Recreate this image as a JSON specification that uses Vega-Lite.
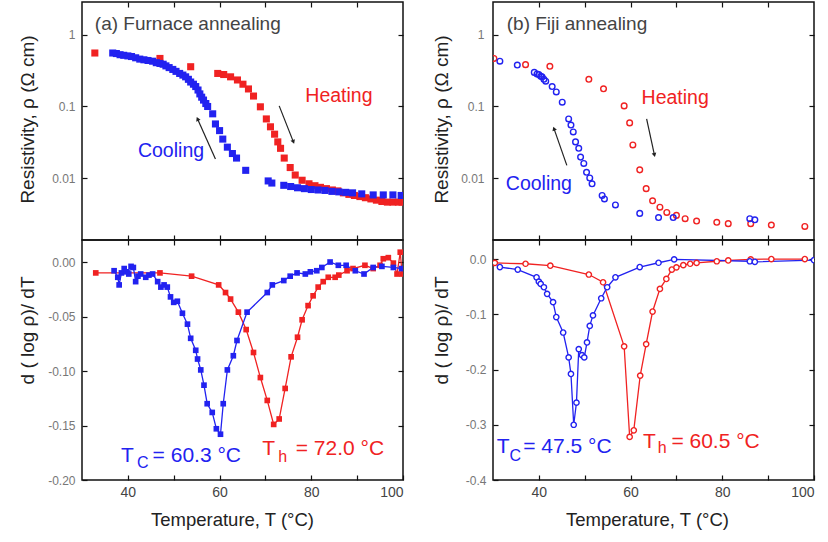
{
  "$schema": "https://vega.github.io/schema/vega-lite/v6.json",
  "background": "white",
  "padding": {"left": 17, "top": 0, "right": 0, "bottom": 0},
  "config": {
    "view": {"stroke": "#111", "strokeWidth": 1.5},
    "font": "Liberation Sans",
    "axis": {"domain": false, "grid": false, "tickSize": -5, "tickColor": "#111", "tickWidth": 1.2, "labelFont": "Liberation Sans", "titleFont": "Liberation Sans", "titleFontWeight": "normal", "titleColor": "#222", "labelColor": "#444", "labelFontSize": 14, "titleFontSize": 18.5}
  },
  "datasets": {
    "fur_rho": [
      {"T": 32.8, "r": 0.56, "s": "Heating"}, {"T": 47.0, "r": 0.47, "s": "Heating"}, {"T": 53.7, "r": 0.36, "s": "Heating"},
      {"T": 59.6, "r": 0.29, "s": "Heating"}, {"T": 60.9, "r": 0.28, "s": "Heating"}, {"T": 62.4, "r": 0.26, "s": "Heating"},
      {"T": 63.9, "r": 0.235, "s": "Heating"}, {"T": 65.1, "r": 0.205, "s": "Heating"}, {"T": 66.3, "r": 0.176, "s": "Heating"},
      {"T": 67.4, "r": 0.14, "s": "Heating"}, {"T": 68.9, "r": 0.099, "s": "Heating"}, {"T": 70.2, "r": 0.067, "s": "Heating"},
      {"T": 71.1, "r": 0.052, "s": "Heating"}, {"T": 72.0, "r": 0.041, "s": "Heating"}, {"T": 72.7, "r": 0.032, "s": "Heating"},
      {"T": 73.3, "r": 0.026, "s": "Heating"}, {"T": 74.1, "r": 0.019, "s": "Heating"}, {"T": 75.4, "r": 0.014, "s": "Heating"},
      {"T": 76.5, "r": 0.011, "s": "Heating"}, {"T": 78.0, "r": 0.0093, "s": "Heating"}, {"T": 79.5, "r": 0.0083, "s": "Heating"},
      {"T": 80.8, "r": 0.0078, "s": "Heating"}, {"T": 82.0, "r": 0.0074, "s": "Heating"}, {"T": 83.3, "r": 0.0071, "s": "Heating"},
      {"T": 84.6, "r": 0.0068, "s": "Heating"}, {"T": 85.8, "r": 0.0066, "s": "Heating"}, {"T": 87.0, "r": 0.0062, "s": "Heating"},
      {"T": 88.2, "r": 0.0059, "s": "Heating"}, {"T": 89.4, "r": 0.0057, "s": "Heating"}, {"T": 90.6, "r": 0.0055, "s": "Heating"},
      {"T": 91.8, "r": 0.0053, "s": "Heating"}, {"T": 93.0, "r": 0.0051, "s": "Heating"}, {"T": 94.2, "r": 0.0049, "s": "Heating"},
      {"T": 95.4, "r": 0.0047, "s": "Heating"}, {"T": 96.6, "r": 0.0046, "s": "Heating"}, {"T": 97.8, "r": 0.0046, "s": "Heating"},
      {"T": 99.0, "r": 0.0046, "s": "Heating"}, {"T": 99.8, "r": 0.0046, "s": "Heating"},
      {"T": 36.7, "r": 0.56, "s": "Cooling"}, {"T": 37.5, "r": 0.55, "s": "Cooling"}, {"T": 38.3, "r": 0.53, "s": "Cooling"},
      {"T": 39.1, "r": 0.52, "s": "Cooling"}, {"T": 40.0, "r": 0.51, "s": "Cooling"}, {"T": 40.8, "r": 0.50, "s": "Cooling"},
      {"T": 41.7, "r": 0.48, "s": "Cooling"}, {"T": 42.6, "r": 0.46, "s": "Cooling"}, {"T": 43.5, "r": 0.45, "s": "Cooling"},
      {"T": 44.4, "r": 0.44, "s": "Cooling"}, {"T": 45.4, "r": 0.43, "s": "Cooling"}, {"T": 46.2, "r": 0.41, "s": "Cooling"},
      {"T": 47.0, "r": 0.40, "s": "Cooling"}, {"T": 47.7, "r": 0.39, "s": "Cooling"}, {"T": 48.3, "r": 0.37, "s": "Cooling"},
      {"T": 49.0, "r": 0.35, "s": "Cooling"}, {"T": 49.8, "r": 0.33, "s": "Cooling"}, {"T": 50.5, "r": 0.31, "s": "Cooling"},
      {"T": 51.3, "r": 0.29, "s": "Cooling"}, {"T": 52.0, "r": 0.275, "s": "Cooling"}, {"T": 52.6, "r": 0.26, "s": "Cooling"},
      {"T": 53.2, "r": 0.24, "s": "Cooling"}, {"T": 53.7, "r": 0.22, "s": "Cooling"}, {"T": 54.3, "r": 0.205, "s": "Cooling"},
      {"T": 54.8, "r": 0.19, "s": "Cooling"}, {"T": 55.3, "r": 0.17, "s": "Cooling"}, {"T": 55.7, "r": 0.15, "s": "Cooling"},
      {"T": 56.1, "r": 0.135, "s": "Cooling"}, {"T": 56.5, "r": 0.123, "s": "Cooling"}, {"T": 57.0, "r": 0.11, "s": "Cooling"},
      {"T": 57.4, "r": 0.1, "s": "Cooling"}, {"T": 58.5, "r": 0.079, "s": "Cooling"}, {"T": 59.1, "r": 0.057, "s": "Cooling"},
      {"T": 60.0, "r": 0.046, "s": "Cooling"}, {"T": 60.7, "r": 0.035, "s": "Cooling"}, {"T": 61.7, "r": 0.027, "s": "Cooling"},
      {"T": 62.8, "r": 0.022, "s": "Cooling"}, {"T": 63.7, "r": 0.019, "s": "Cooling"}, {"T": 65.7, "r": 0.0128, "s": "Cooling"},
      {"T": 70.6, "r": 0.0091, "s": "Cooling"}, {"T": 71.4, "r": 0.0085, "s": "Cooling"}, {"T": 74.0, "r": 0.0079, "s": "Cooling"},
      {"T": 75.5, "r": 0.0076, "s": "Cooling"}, {"T": 77.0, "r": 0.0073, "s": "Cooling"}, {"T": 78.5, "r": 0.0071, "s": "Cooling"},
      {"T": 80.0, "r": 0.0069, "s": "Cooling"}, {"T": 81.5, "r": 0.0068, "s": "Cooling"}, {"T": 83.0, "r": 0.0067, "s": "Cooling"},
      {"T": 84.5, "r": 0.0065, "s": "Cooling"}, {"T": 86.0, "r": 0.0064, "s": "Cooling"}, {"T": 87.5, "r": 0.0063, "s": "Cooling"},
      {"T": 89.0, "r": 0.0062, "s": "Cooling"}, {"T": 91.0, "r": 0.006, "s": "Cooling"}, {"T": 93.5, "r": 0.0058, "s": "Cooling"},
      {"T": 95.7, "r": 0.0058, "s": "Cooling"}, {"T": 97.8, "r": 0.0058, "s": "Cooling"}, {"T": 99.6, "r": 0.0057, "s": "Cooling"}
    ],
    "fur_d": [
      {"T": 33.0, "d": -0.010, "s": "Heating"}, {"T": 47.0, "d": -0.010, "s": "Heating"}, {"T": 53.9, "d": -0.013, "s": "Heating"},
      {"T": 59.8, "d": -0.021, "s": "Heating"}, {"T": 61.3, "d": -0.028, "s": "Heating"}, {"T": 62.4, "d": -0.034, "s": "Heating"},
      {"T": 64.1, "d": -0.046, "s": "Heating"}, {"T": 65.8, "d": -0.062, "s": "Heating"}, {"T": 67.4, "d": -0.083, "s": "Heating"},
      {"T": 68.9, "d": -0.106, "s": "Heating"}, {"T": 70.4, "d": -0.127, "s": "Heating"}, {"T": 71.8, "d": -0.149, "s": "Heating"},
      {"T": 73.0, "d": -0.144, "s": "Heating"}, {"T": 74.3, "d": -0.116, "s": "Heating"}, {"T": 75.6, "d": -0.087, "s": "Heating"},
      {"T": 77.0, "d": -0.069, "s": "Heating"}, {"T": 78.0, "d": -0.053, "s": "Heating"}, {"T": 79.3, "d": -0.040, "s": "Heating"},
      {"T": 80.4, "d": -0.031, "s": "Heating"}, {"T": 81.5, "d": -0.023, "s": "Heating"}, {"T": 82.6, "d": -0.018, "s": "Heating"},
      {"T": 83.7, "d": -0.014, "s": "Heating"}, {"T": 85.2, "d": -0.014, "s": "Heating"}, {"T": 86.0, "d": -0.012, "s": "Heating"},
      {"T": 87.8, "d": -0.008, "s": "Heating"}, {"T": 89.1, "d": -0.006, "s": "Heating"}, {"T": 91.7, "d": -0.003, "s": "Heating"},
      {"T": 93.5, "d": -0.006, "s": "Heating"}, {"T": 95.0, "d": -0.003, "s": "Heating"}, {"T": 95.7, "d": 0.003, "s": "Heating"},
      {"T": 96.8, "d": 0.004, "s": "Heating"}, {"T": 97.9, "d": -0.001, "s": "Heating"}, {"T": 98.7, "d": -0.011, "s": "Heating"},
      {"T": 99.4, "d": 0.009, "s": "Heating"}, {"T": 99.8, "d": -0.011, "s": "Heating"},
      {"T": 37.0, "d": -0.008, "s": "Cooling"}, {"T": 37.8, "d": -0.014, "s": "Cooling"}, {"T": 38.1, "d": -0.021, "s": "Cooling"},
      {"T": 38.6, "d": -0.010, "s": "Cooling"}, {"T": 39.2, "d": -0.006, "s": "Cooling"}, {"T": 39.7, "d": -0.009, "s": "Cooling"},
      {"T": 40.2, "d": -0.011, "s": "Cooling"}, {"T": 40.7, "d": -0.004, "s": "Cooling"}, {"T": 41.2, "d": -0.005, "s": "Cooling"},
      {"T": 41.7, "d": -0.018, "s": "Cooling"}, {"T": 42.2, "d": -0.013, "s": "Cooling"}, {"T": 42.8, "d": -0.011, "s": "Cooling"},
      {"T": 43.9, "d": -0.014, "s": "Cooling"}, {"T": 44.6, "d": -0.012, "s": "Cooling"}, {"T": 45.4, "d": -0.011, "s": "Cooling"},
      {"T": 46.5, "d": -0.018, "s": "Cooling"}, {"T": 47.2, "d": -0.023, "s": "Cooling"}, {"T": 47.9, "d": -0.021, "s": "Cooling"},
      {"T": 48.6, "d": -0.023, "s": "Cooling"}, {"T": 49.3, "d": -0.032, "s": "Cooling"}, {"T": 50.0, "d": -0.037, "s": "Cooling"},
      {"T": 50.8, "d": -0.036, "s": "Cooling"}, {"T": 51.9, "d": -0.047, "s": "Cooling"}, {"T": 53.0, "d": -0.057, "s": "Cooling"},
      {"T": 53.7, "d": -0.070, "s": "Cooling"}, {"T": 54.8, "d": -0.081, "s": "Cooling"}, {"T": 55.2, "d": -0.089, "s": "Cooling"},
      {"T": 55.9, "d": -0.099, "s": "Cooling"}, {"T": 56.6, "d": -0.113, "s": "Cooling"}, {"T": 57.3, "d": -0.130, "s": "Cooling"},
      {"T": 58.4, "d": -0.138, "s": "Cooling"}, {"T": 59.3, "d": -0.153, "s": "Cooling"}, {"T": 60.2, "d": -0.158, "s": "Cooling"},
      {"T": 60.8, "d": -0.130, "s": "Cooling"}, {"T": 61.7, "d": -0.099, "s": "Cooling"}, {"T": 63.0, "d": -0.086, "s": "Cooling"},
      {"T": 63.8, "d": -0.072, "s": "Cooling"}, {"T": 66.0, "d": -0.046, "s": "Cooling"}, {"T": 70.4, "d": -0.028, "s": "Cooling"},
      {"T": 71.5, "d": -0.021, "s": "Cooling"}, {"T": 74.0, "d": -0.017, "s": "Cooling"}, {"T": 75.4, "d": -0.013, "s": "Cooling"},
      {"T": 76.9, "d": -0.010, "s": "Cooling"}, {"T": 78.7, "d": -0.011, "s": "Cooling"}, {"T": 79.8, "d": -0.009, "s": "Cooling"},
      {"T": 81.2, "d": -0.008, "s": "Cooling"}, {"T": 82.3, "d": -0.005, "s": "Cooling"}, {"T": 84.1, "d": 0.0, "s": "Cooling"},
      {"T": 85.9, "d": -0.003, "s": "Cooling"}, {"T": 87.6, "d": -0.003, "s": "Cooling"}, {"T": 89.6, "d": -0.008, "s": "Cooling"},
      {"T": 91.5, "d": -0.011, "s": "Cooling"}, {"T": 93.5, "d": -0.005, "s": "Cooling"}, {"T": 95.4, "d": -0.004, "s": "Cooling"},
      {"T": 97.9, "d": -0.005, "s": "Cooling"}, {"T": 99.7, "d": -0.006, "s": "Cooling"}
    ],
    "fiji_rho": [
      {"T": 30.2, "r": 0.47, "s": "Heating"}, {"T": 37.1, "r": 0.385, "s": "Heating"}, {"T": 42.4, "r": 0.365, "s": "Heating"},
      {"T": 50.9, "r": 0.24, "s": "Heating"}, {"T": 54.1, "r": 0.177, "s": "Heating"}, {"T": 58.6, "r": 0.102, "s": "Heating"},
      {"T": 59.8, "r": 0.059, "s": "Heating"}, {"T": 60.5, "r": 0.029, "s": "Heating"}, {"T": 62.0, "r": 0.013, "s": "Heating"},
      {"T": 63.4, "r": 0.0071, "s": "Heating"}, {"T": 64.8, "r": 0.0048, "s": "Heating"}, {"T": 66.4, "r": 0.0039, "s": "Heating"},
      {"T": 67.9, "r": 0.0033, "s": "Heating"}, {"T": 70.0, "r": 0.0030, "s": "Heating"}, {"T": 71.9, "r": 0.0027, "s": "Heating"},
      {"T": 74.4, "r": 0.0025, "s": "Heating"}, {"T": 78.8, "r": 0.0024, "s": "Heating"}, {"T": 81.3, "r": 0.0023, "s": "Heating"},
      {"T": 86.2, "r": 0.0023, "s": "Heating"}, {"T": 90.7, "r": 0.0022, "s": "Heating"}, {"T": 98.0, "r": 0.0021, "s": "Heating"},
      {"T": 31.5, "r": 0.43, "s": "Cooling"}, {"T": 35.3, "r": 0.38, "s": "Cooling"}, {"T": 39.0, "r": 0.30, "s": "Cooling"},
      {"T": 39.6, "r": 0.285, "s": "Cooling"}, {"T": 40.0, "r": 0.28, "s": "Cooling"}, {"T": 40.4, "r": 0.265, "s": "Cooling"},
      {"T": 40.7, "r": 0.26, "s": "Cooling"}, {"T": 41.1, "r": 0.24, "s": "Cooling"}, {"T": 41.5, "r": 0.226, "s": "Cooling"},
      {"T": 42.9, "r": 0.19, "s": "Cooling"}, {"T": 43.8, "r": 0.16, "s": "Cooling"}, {"T": 45.1, "r": 0.115, "s": "Cooling"},
      {"T": 46.5, "r": 0.067, "s": "Cooling"}, {"T": 47.0, "r": 0.055, "s": "Cooling"}, {"T": 47.5, "r": 0.044, "s": "Cooling"},
      {"T": 48.0, "r": 0.032, "s": "Cooling"}, {"T": 48.7, "r": 0.026, "s": "Cooling"}, {"T": 49.1, "r": 0.0196, "s": "Cooling"},
      {"T": 49.8, "r": 0.016, "s": "Cooling"}, {"T": 50.4, "r": 0.012, "s": "Cooling"}, {"T": 51.1, "r": 0.010, "s": "Cooling"},
      {"T": 51.6, "r": 0.0083, "s": "Cooling"}, {"T": 53.8, "r": 0.0057, "s": "Cooling"}, {"T": 54.3, "r": 0.0051, "s": "Cooling"},
      {"T": 56.7, "r": 0.0042, "s": "Cooling"}, {"T": 62.0, "r": 0.0032, "s": "Cooling"}, {"T": 66.1, "r": 0.0028, "s": "Cooling"},
      {"T": 69.3, "r": 0.0028, "s": "Cooling"}, {"T": 86.0, "r": 0.0027, "s": "Cooling"}, {"T": 87.1, "r": 0.0026, "s": "Cooling"}
    ],
    "fiji_d": [
      {"T": 30.4, "d": -0.007, "s": "Heating"}, {"T": 37.1, "d": -0.0085, "s": "Heating"}, {"T": 42.5, "d": -0.012, "s": "Heating"},
      {"T": 50.9, "d": -0.028, "s": "Heating"}, {"T": 54.0, "d": -0.042, "s": "Heating"}, {"T": 58.6, "d": -0.158, "s": "Heating"},
      {"T": 59.8, "d": -0.322, "s": "Heating"}, {"T": 60.7, "d": -0.31, "s": "Heating"}, {"T": 62.1, "d": -0.211, "s": "Heating"},
      {"T": 63.4, "d": -0.154, "s": "Heating"}, {"T": 64.8, "d": -0.095, "s": "Heating"}, {"T": 66.4, "d": -0.054, "s": "Heating"},
      {"T": 67.8, "d": -0.036, "s": "Heating"}, {"T": 69.0, "d": -0.019, "s": "Heating"}, {"T": 70.0, "d": -0.015, "s": "Heating"},
      {"T": 71.5, "d": -0.011, "s": "Heating"}, {"T": 73.0, "d": -0.0085, "s": "Heating"}, {"T": 74.4, "d": -0.007, "s": "Heating"},
      {"T": 78.8, "d": -0.004, "s": "Heating"}, {"T": 81.3, "d": -0.0025, "s": "Heating"}, {"T": 86.2, "d": -0.0006, "s": "Heating"},
      {"T": 90.7, "d": 0.0, "s": "Heating"}, {"T": 98.0, "d": 0.0, "s": "Heating"},
      {"T": 31.5, "d": -0.0145, "s": "Cooling"}, {"T": 35.4, "d": -0.019, "s": "Cooling"}, {"T": 39.5, "d": -0.033, "s": "Cooling"},
      {"T": 40.0, "d": -0.041, "s": "Cooling"}, {"T": 40.4, "d": -0.045, "s": "Cooling"}, {"T": 41.1, "d": -0.051, "s": "Cooling"},
      {"T": 41.8, "d": -0.063, "s": "Cooling"}, {"T": 43.1, "d": -0.078, "s": "Cooling"}, {"T": 43.8, "d": -0.105, "s": "Cooling"},
      {"T": 45.3, "d": -0.133, "s": "Cooling"}, {"T": 46.5, "d": -0.178, "s": "Cooling"}, {"T": 47.0, "d": -0.208, "s": "Cooling"},
      {"T": 47.6, "d": -0.30, "s": "Cooling"}, {"T": 48.2, "d": -0.26, "s": "Cooling"}, {"T": 48.7, "d": -0.163, "s": "Cooling"},
      {"T": 49.4, "d": -0.174, "s": "Cooling"}, {"T": 49.9, "d": -0.178, "s": "Cooling"}, {"T": 50.5, "d": -0.151, "s": "Cooling"},
      {"T": 51.1, "d": -0.121, "s": "Cooling"}, {"T": 51.8, "d": -0.102, "s": "Cooling"}, {"T": 53.6, "d": -0.071, "s": "Cooling"},
      {"T": 54.9, "d": -0.051, "s": "Cooling"}, {"T": 56.7, "d": -0.033, "s": "Cooling"}, {"T": 62.0, "d": -0.0145, "s": "Cooling"},
      {"T": 66.1, "d": -0.0067, "s": "Cooling"}, {"T": 69.5, "d": -0.0006, "s": "Cooling"}, {"T": 86.0, "d": -0.004, "s": "Cooling"},
      {"T": 87.1, "d": -0.005, "s": "Cooling"}, {"T": 100.0, "d": -0.002, "s": "Cooling"}
    ]
  },
  "columns": 2,
  "spacing": {"row": 0, "column": 90},
  "bounds": "flush",
  "concat": [
    {
      "width": 321, "height": 238,
      "layer": [
        {
          "data": {"name": "fur_rho"},
          "mark": {"type": "square", "filled": true, "size": 50, "opacity": 1, "clip": true},
          "encoding": {
            "x": {"field": "T", "type": "quantitative", "scale": {"domain": [30, 100], "nice": false, "zero": false}, "axis": {"orient": "bottom", "values": [40, 50, 60, 70, 80, 90], "labels": false, "title": null}},
            "y": {"field": "r", "type": "quantitative", "scale": {"type": "log", "domain": [0.001358, 2.894], "nice": false}, "axis": {"orient": "left", "values": [0.01, 0.1, 1], "format": "~g", "labelColor": "#777", "labelFontSize": 12, "labelPadding": 12, "title": "Resistivity, ρ (Ω cm)", "titleFontSize": 19, "titleAngle": -90, "titleX": -55, "titleY": 117, "titleAlign": "center", "titleBaseline": "middle"}},
            "color": {"field": "s", "type": "nominal", "scale": {"domain": ["Heating", "Cooling"], "range": ["#f02222", "#2222f0"]}, "legend": null}
          }
        },
        {
          "data": {"values": [{"T": 59.1, "r": 0.0185, "T2": 55.2, "r2": 0.067}, {"T": 73.0, "r": 0.102, "T2": 76.1, "r2": 0.032}]},
          "mark": {"type": "rule", "color": "#222", "strokeWidth": 1.2},
          "encoding": {"x": {"field": "T", "type": "quantitative", "axis": null}, "y": {"field": "r", "type": "quantitative", "axis": null}, "x2": {"field": "T2"}, "y2": {"field": "r2"}}
        },
        {
          "data": {"values": [{"T": 55.2, "r": 0.067, "a": 336}, {"T": 76.1, "r": 0.032, "a": 159}]},
          "mark": {"type": "point", "shape": "triangle-up", "filled": true, "color": "#222", "size": 22, "opacity": 1},
          "encoding": {"x": {"field": "T", "type": "quantitative", "axis": null}, "y": {"field": "r", "type": "quantitative", "axis": null}, "angle": {"field": "a", "type": "quantitative", "scale": null}}
        },
        {
          "data": {"values": [{"T": 32.8, "r": 1.17, "t": "(a) Furnace annealing"}]},
          "mark": {"type": "text", "align": "left", "baseline": "alphabetic", "fontSize": 19, "color": "#444"},
          "encoding": {"x": {"field": "T", "type": "quantitative", "axis": null}, "y": {"field": "r", "type": "quantitative", "axis": null}, "text": {"field": "t"}}
        },
        {
          "data": {"values": [{"T": 78.7, "r": 0.1156, "t": "Heating", "s": "Heating"}, {"T": 42.2, "r": 0.0197, "t": "Cooling", "s": "Cooling"}]},
          "mark": {"type": "text", "align": "left", "baseline": "alphabetic", "fontSize": 19.5},
          "encoding": {"x": {"field": "T", "type": "quantitative", "axis": null}, "y": {"field": "r", "type": "quantitative", "axis": null}, "text": {"field": "t"}, "color": {"field": "s", "type": "nominal", "legend": null}}
        },
        {
          "data": {"name": "fur_rho"},
          "mark": {"type": "point", "opacity": 0},
          "encoding": {
            "x": {"field": "T", "type": "quantitative", "axis": {"orient": "top", "values": [40, 50, 60, 70, 80, 90], "labels": false, "title": null}},
            "y": {"field": "r", "type": "quantitative", "axis": {"orient": "right", "values": [0.01, 0.1, 1], "labels": false, "title": null}}
          }
        }
      ],
      "resolve": {"axis": {"x": "independent", "y": "independent"}}
    },
    {
      "width": 321, "height": 238,
      "layer": [
        {
          "data": {"name": "fiji_rho"},
          "mark": {"type": "point", "shape": "circle", "filled": false, "size": 32, "strokeWidth": 1.4, "opacity": 1, "clip": true},
          "encoding": {
            "x": {"field": "T", "type": "quantitative", "scale": {"domain": [30, 100], "nice": false, "zero": false}, "axis": {"orient": "bottom", "values": [40, 50, 60, 70, 80, 90], "labels": false, "title": null}},
            "y": {"field": "r", "type": "quantitative", "scale": {"type": "log", "domain": [0.001358, 2.894], "nice": false}, "axis": {"orient": "left", "values": [0.01, 0.1, 1], "format": "~g", "labelColor": "#777", "labelFontSize": 12, "labelPadding": 14, "title": "Resistivity, ρ (Ω cm)", "titleFontSize": 19, "titleAngle": -90, "titleX": -52, "titleY": 117, "titleAlign": "center", "titleBaseline": "middle"}},
            "color": {"field": "s", "type": "nominal", "scale": {"domain": ["Heating", "Cooling"], "range": ["#f02222", "#2222f0"]}, "legend": null}
          }
        },
        {
          "data": {"values": [{"T": 46.1, "r": 0.015, "T2": 43.3, "r2": 0.049}, {"T": 63.5, "r": 0.067, "T2": 65.2, "r2": 0.021}]},
          "mark": {"type": "rule", "color": "#222", "strokeWidth": 1.2},
          "encoding": {"x": {"field": "T", "type": "quantitative", "axis": null}, "y": {"field": "r", "type": "quantitative", "axis": null}, "x2": {"field": "T2"}, "y2": {"field": "r2"}}
        },
        {
          "data": {"values": [{"T": 43.3, "r": 0.049, "a": 340}, {"T": 65.2, "r": 0.021, "a": 167}]},
          "mark": {"type": "point", "shape": "triangle-up", "filled": true, "color": "#222", "size": 22, "opacity": 1},
          "encoding": {"x": {"field": "T", "type": "quantitative", "axis": null}, "y": {"field": "r", "type": "quantitative", "axis": null}, "angle": {"field": "a", "type": "quantitative", "scale": null}}
        },
        {
          "data": {"values": [{"T": 33.0, "r": 1.17, "t": "(b) Fiji annealing"}]},
          "mark": {"type": "text", "align": "left", "baseline": "alphabetic", "fontSize": 19, "color": "#444"},
          "encoding": {"x": {"field": "T", "type": "quantitative", "axis": null}, "y": {"field": "r", "type": "quantitative", "axis": null}, "text": {"field": "t"}}
        },
        {
          "data": {"values": [{"T": 62.4, "r": 0.108, "t": "Heating", "s": "Heating"}, {"T": 32.8, "r": 0.0068, "t": "Cooling", "s": "Cooling"}]},
          "mark": {"type": "text", "align": "left", "baseline": "alphabetic", "fontSize": 19.5},
          "encoding": {"x": {"field": "T", "type": "quantitative", "axis": null}, "y": {"field": "r", "type": "quantitative", "axis": null}, "text": {"field": "t"}, "color": {"field": "s", "type": "nominal", "legend": null}}
        },
        {
          "data": {"name": "fiji_rho"},
          "mark": {"type": "point", "opacity": 0},
          "encoding": {
            "x": {"field": "T", "type": "quantitative", "axis": {"orient": "top", "values": [40, 50, 60, 70, 80, 90], "labels": false, "title": null}},
            "y": {"field": "r", "type": "quantitative", "axis": {"orient": "right", "values": [0.01, 0.1, 1], "labels": false, "title": null}}
          }
        }
      ],
      "resolve": {"axis": {"x": "independent", "y": "independent"}}
    },
    {
      "width": 321, "height": 240,
      "layer": [
        {
          "data": {"name": "fur_d"},
          "mark": {"type": "line", "strokeWidth": 1.3, "clip": true},
          "encoding": {
            "x": {"field": "T", "type": "quantitative", "scale": {"domain": [30, 100], "nice": false, "zero": false}, "axis": {"orient": "bottom", "values": [40, 50, 60, 70, 80, 90, 100], "labelExpr": "datum.value % 20 == 0 ? datum.label : ''", "labelPadding": 10, "title": "Temperature, T (°C)", "titleX": 150, "titleY": 39, "titleAlign": "center", "titleBaseline": "middle"}},
            "y": {"field": "d", "type": "quantitative", "scale": {"domain": [-0.2, 0.0202], "nice": false, "zero": false}, "axis": {"orient": "left", "values": [0, -0.05, -0.1, -0.15, -0.2], "labelExpr": "datum.value < 0 ? '-' + format(-datum.value, '.2f') : format(datum.value, '.2f')", "labelColor": "#777", "labelFontSize": 12, "labelPadding": 12, "title": "d ( log ρ)/ dT", "titleFontSize": 19, "titleAngle": -90, "titleX": -55, "titleY": 90, "titleAlign": "center", "titleBaseline": "middle"}},
            "color": {"field": "s", "type": "nominal", "scale": {"domain": ["Heating", "Cooling"], "range": ["#f02222", "#2222f0"]}, "legend": null},
            "order": {"field": "T", "type": "quantitative"}
          }
        },
        {
          "data": {"name": "fur_d"},
          "mark": {"type": "square", "filled": true, "size": 32, "opacity": 1, "clip": true},
          "encoding": {
            "x": {"field": "T", "type": "quantitative", "axis": null},
            "y": {"field": "d", "type": "quantitative", "axis": null},
            "color": {"field": "s", "type": "nominal", "legend": null}
          }
        },
        {
          "data": {"values": [{"T": 38.5, "d": -0.1835, "t": "T", "s": "Cooling"}, {"T": 45.4, "d": -0.1835, "t": "= 60.3 °C", "s": "Cooling"}, {"T": 69.3, "d": -0.177, "t": "T", "s": "Heating"}, {"T": 76.6, "d": -0.177, "t": "= 72.0 °C", "s": "Heating"}]},
          "mark": {"type": "text", "align": "left", "baseline": "alphabetic", "fontSize": 21},
          "encoding": {"x": {"field": "T", "type": "quantitative", "axis": null}, "y": {"field": "d", "type": "quantitative", "axis": null}, "text": {"field": "t"}, "color": {"field": "s", "type": "nominal", "legend": null}}
        },
        {
          "data": {"values": [{"T": 42.0, "d": -0.189, "t": "C", "s": "Cooling"}, {"T": 72.8, "d": -0.1835, "t": "h", "s": "Heating"}]},
          "mark": {"type": "text", "align": "left", "baseline": "alphabetic", "fontSize": 16},
          "encoding": {"x": {"field": "T", "type": "quantitative", "axis": null}, "y": {"field": "d", "type": "quantitative", "axis": null}, "text": {"field": "t"}, "color": {"field": "s", "type": "nominal", "legend": null}}
        },
        {
          "data": {"name": "fur_d"},
          "mark": {"type": "point", "opacity": 0},
          "encoding": {
            "x": {"field": "T", "type": "quantitative", "axis": {"orient": "top", "values": [40, 50, 60, 70, 80, 90], "labels": false, "title": null}},
            "y": {"field": "d", "type": "quantitative", "axis": {"orient": "right", "values": [0, -0.05, -0.1, -0.15], "labels": false, "title": null}}
          }
        }
      ],
      "resolve": {"axis": {"x": "independent", "y": "independent"}}
    },
    {
      "width": 321, "height": 240,
      "layer": [
        {
          "data": {"name": "fiji_d"},
          "mark": {"type": "line", "strokeWidth": 1.3, "clip": true},
          "encoding": {
            "x": {"field": "T", "type": "quantitative", "scale": {"domain": [30, 100], "nice": false, "zero": false}, "axis": {"orient": "bottom", "values": [40, 50, 60, 70, 80, 90, 100], "labelExpr": "datum.value % 20 == 0 ? datum.label : ''", "labelPadding": 10, "title": "Temperature, T (°C)", "titleX": 154, "titleY": 39, "titleAlign": "center", "titleBaseline": "middle"}},
            "y": {"field": "d", "type": "quantitative", "scale": {"domain": [-0.4, 0.0345], "nice": false, "zero": false}, "axis": {"orient": "left", "values": [0, -0.1, -0.2, -0.3, -0.4], "labelExpr": "datum.value < 0 ? '-' + format(-datum.value, '.1f') : format(datum.value, '.1f')", "labelColor": "#777", "labelFontSize": 12, "labelPadding": 12, "title": "d ( log ρ)/ dT", "titleFontSize": 19, "titleAngle": -90, "titleX": -52, "titleY": 90, "titleAlign": "center", "titleBaseline": "middle"}},
            "color": {"field": "s", "type": "nominal", "scale": {"domain": ["Heating", "Cooling"], "range": ["#f02222", "#2222f0"]}, "legend": null},
            "order": {"field": "T", "type": "quantitative"}
          }
        },
        {
          "data": {"name": "fiji_d"},
          "mark": {"type": "point", "shape": "circle", "filled": true, "fill": "white", "size": 28, "strokeWidth": 1.4, "opacity": 1, "clip": true},
          "encoding": {
            "x": {"field": "T", "type": "quantitative", "axis": null},
            "y": {"field": "d", "type": "quantitative", "axis": null},
            "stroke": {"field": "s", "type": "nominal", "scale": {"domain": ["Heating", "Cooling"], "range": ["#f02222", "#2222f0"]}, "legend": null}
          }
        },
        {
          "data": {"values": [{"T": 30.8, "d": -0.351, "t": "T", "s": "Cooling"}, {"T": 36.6, "d": -0.351, "t": "= 47.5 °C", "s": "Cooling"}, {"T": 62.7, "d": -0.342, "t": "T", "s": "Heating"}, {"T": 68.9, "d": -0.342, "t": "= 60.5 °C", "s": "Heating"}]},
          "mark": {"type": "text", "align": "left", "baseline": "alphabetic", "fontSize": 21},
          "encoding": {"x": {"field": "T", "type": "quantitative", "axis": null}, "y": {"field": "d", "type": "quantitative", "axis": null}, "text": {"field": "t"}, "color": {"field": "s", "type": "nominal", "legend": null}}
        },
        {
          "data": {"values": [{"T": 33.6, "d": -0.366, "t": "C", "s": "Cooling"}, {"T": 65.9, "d": -0.352, "t": "h", "s": "Heating"}]},
          "mark": {"type": "text", "align": "left", "baseline": "alphabetic", "fontSize": 16},
          "encoding": {"x": {"field": "T", "type": "quantitative", "axis": null}, "y": {"field": "d", "type": "quantitative", "axis": null}, "text": {"field": "t"}, "color": {"field": "s", "type": "nominal", "legend": null}}
        },
        {
          "data": {"name": "fiji_d"},
          "mark": {"type": "point", "opacity": 0},
          "encoding": {
            "x": {"field": "T", "type": "quantitative", "axis": {"orient": "top", "values": [40, 50, 60, 70, 80, 90], "labels": false, "title": null}},
            "y": {"field": "d", "type": "quantitative", "axis": {"orient": "right", "values": [0, -0.1, -0.2, -0.3], "labels": false, "title": null}}
          }
        }
      ],
      "resolve": {"axis": {"x": "independent", "y": "independent"}}
    }
  ]
}
